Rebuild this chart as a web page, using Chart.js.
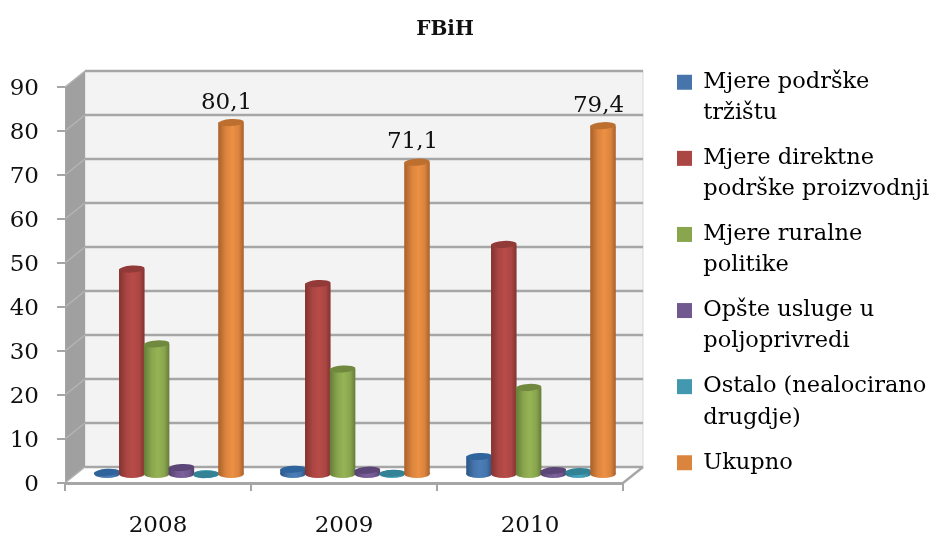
<!DOCTYPE html>
<html>
<head>
<meta charset="utf-8">
<style>
  html, body { margin: 0; padding: 0; background: #fff; }
  #wrap { width: 932px; height: 535px; }
</style>
<script src="https://cdn.jsdelivr.net/npm/chart.js@4/dist/chart.umd.min.js"></script>
</head>
<body>
<div id="wrap"><canvas id="chart" width="932" height="535"></canvas></div>
<script>
var years = ['2008', '2009', '2010'];
var legendLines = [
  ['Mjere podrške', 'tržištu'],
  ['Mjere direktne', 'podrške proizvodnji'],
  ['Mjere ruralne', 'politike'],
  ['Opšte usluge u', 'poljoprivredi'],
  ['Ostalo (nealocirano', 'drugdje)'],
  ['Ukupno']
];
var trzistu = [0.6, 1.3, 4.2];
var direktna = [46.8, 43.5, 52.4];
var ruralna = [29.8, 24.1, 19.9];
var opste = [1.7, 1.1, 1];
var ostalo = [0.1, 0.4, 0.8];
var ukupno = [80.1, 71.1, 79.4];
var seriesValues = [trzistu, direktna, ruralna, opste, ostalo, ukupno];
var totalLabels = ['80,1', '71,1', '79,4'];
var yTicks = [0, 10, 20, 30, 40, 50, 60, 70, 80, 90];

var mainColors = ['#4674AB', '#AA4643', '#89A54E', '#71588F', '#4198AF', '#DB843D'];
var lightColors = ['#4A7DB8', '#B84B48', '#96B455', '#7B609B', '#46A6BF', '#EC9044'];
var darkColors = ['#2A5585', '#843230', '#667C38', '#53406C', '#2D7487', '#A8602A'];
var capColors = ['#2F639B', '#923A37', '#71893F', '#5C4677', '#338296', '#BC6F2E'];

var font = 'DejaVu Serif';
var depthX = 20, depthY = 16;   // back wall offset from the front axes
var gray = '#A6A6A6';

var frame3d = {
  id: 'frame3d',
  beforeLayout: function (chart) {
    // legend keeps a fixed column so the plot ends where the reference does
    var lg = chart.legend;
    if (!lg.wrappedFit) {
      var fit = lg.fit;
      lg.fit = function () { fit.call(this); this.width = 309; };
      lg.wrappedFit = true;
    }
  },
  afterLayout: function (chart) {
    var lg = chart.legend;
    lg.left = 663; lg.right = 932;
    lg.top = 57; lg.bottom = 535;
    chart.titleBlock.left -= 21;
    chart.titleBlock.right -= 21;
  },
  beforeDraw: function (chart) {
    var c = chart.ctx, x = chart.scales.x, y = chart.scales.y;
    var l = x.left, r = x.right, b = y.getPixelForValue(0), t = y.getPixelForValue(90);
    c.save();
    // back wall
    c.fillStyle = '#F3F3F3';
    c.fillRect(l + depthX, t - depthY, r - l, b - t);
    c.strokeStyle = '#D9D9D9';
    c.lineWidth = 1;
    c.strokeRect(l + depthX, t - depthY, r - l, b - t);
    // left wall
    c.fillStyle = '#A0A0A0';
    c.beginPath();
    c.moveTo(l, t); c.lineTo(l + depthX, t - depthY);
    c.lineTo(l + depthX, b - depthY); c.lineTo(l, b);
    c.closePath(); c.fill();
    // floor
    c.fillStyle = '#fff';
    c.beginPath();
    c.moveTo(l, b); c.lineTo(l + depthX, b - depthY);
    c.lineTo(r + depthX, b - depthY); c.lineTo(r, b);
    c.closePath(); c.fill();
    // grid lines, wall part first
    yTicks.forEach(function (v) {
      var py = y.getPixelForValue(v);
      c.strokeStyle = '#B5B5B5';
      c.lineWidth = 1.5;
      c.beginPath(); c.moveTo(l, py); c.lineTo(l + depthX, py - depthY); c.stroke();
      c.strokeStyle = gray;
      c.lineWidth = 2.5;
      c.beginPath(); c.moveTo(l + depthX, py - depthY); c.lineTo(r + depthX, py - depthY); c.stroke();
    });
    // right edge of the floor
    c.strokeStyle = gray;
    c.lineWidth = 2.5;
    c.beginPath(); c.moveTo(r, b); c.lineTo(r + depthX, b - depthY); c.stroke();
    c.restore();
  },
  beforeDatasetsDraw: function (chart) {
    var c = chart.ctx;
    c.save();
    c.translate(depthX / 2 + 1, -depthY / 2);
    chart.getSortedVisibleDatasetMetas().forEach(function (meta) {
      var i = meta.index;
      meta.data.forEach(function (bar) {
        var half = bar.width / 2;
        var g = c.createLinearGradient(bar.x - half, 0, bar.x + half, 0);
        g.addColorStop(0, darkColors[i]);
        g.addColorStop(0.3, mainColors[i]);
        g.addColorStop(0.55, lightColors[i]);
        g.addColorStop(0.8, mainColors[i]);
        g.addColorStop(1, darkColors[i]);
        bar.options = Object.assign({}, bar.options, { backgroundColor: g });
        c.fillStyle = g;
        c.beginPath();
        c.ellipse(bar.x, bar.base, half, 4, 0, 0, Math.PI * 2);
        c.fill();
      });
      meta.controller.draw();
      meta.data.forEach(function (bar) {
        c.fillStyle = capColors[i];
        c.beginPath();
        c.ellipse(bar.x, bar.y, bar.width / 2, 3.5, -0.06, 0, Math.PI * 2);
        c.fill();
      });
    });
    c.restore();
    // value labels over the totals
    var totals = chart.getDatasetMeta(5).data;
    c.save();
    c.fillStyle = '#111';
    c.font = '23px "' + font + '"';
    c.textAlign = 'center';
    c.textBaseline = 'middle';
    totals.forEach(function (bar, n) {
      c.fillText(totalLabels[n], bar.x + 6.5, bar.y - 28);
    });
    c.restore();
    return false;
  }
};

new Chart(document.getElementById('chart'), {
  type: 'bar',
  plugins: [frame3d],
  data: {
    labels: years,
    datasets: seriesValues.map(function (vals, i) {
      return {
        label: legendLines[i].join(' '),
        data: vals,
        backgroundColor: mainColors[i],
        borderWidth: 0,
        clip: false,
        categoryPercentage: 0.8,
        barPercentage: 1.03
      };
    })
  },
  options: {
    responsive: false,
    animation: false,
    layout: { padding: 0 },
    plugins: {
      tooltip: { enabled: false },
      title: {
        display: true,
        text: 'FBiH',
        color: '#111',
        font: { family: font, size: 20, weight: 'bold', lineHeight: 1.2 },
        padding: { top: 18, bottom: 45 }
      },
      legend: {
        position: 'right',
        align: 'start',
        labels: {
          boxWidth: 15,
          boxHeight: 15,
          padding: 14,
          color: '#111',
          font: { family: font, size: 22.5, lineHeight: 1.38 },
          generateLabels: function () {
            return legendLines.map(function (lines, i) {
              return { text: lines, fillStyle: mainColors[i], strokeStyle: mainColors[i], lineWidth: 0, datasetIndex: i };
            });
          }
        }
      }
    },
    scales: {
      x: {
        afterFit: function (s) { s.height = 52; },
        grid: { drawOnChartArea: false, color: gray, lineWidth: 2, tickLength: 8 },
        border: { color: gray, width: 3 },
        ticks: { color: '#111', padding: 21, font: { family: font, size: 23 } }
      },
      y: {
        min: 0,
        max: 90,
        afterFit: function (s) { s.width = 65; },
        grid: { drawOnChartArea: false, color: gray, lineWidth: 2, tickLength: 8 },
        border: { color: gray, width: 1 },
        ticks: { stepSize: 10, color: '#111', padding: 18, labelOffset: 2, font: { family: font, size: 23 } }
      }
    }
  }
});
</script>
</body>
</html>
